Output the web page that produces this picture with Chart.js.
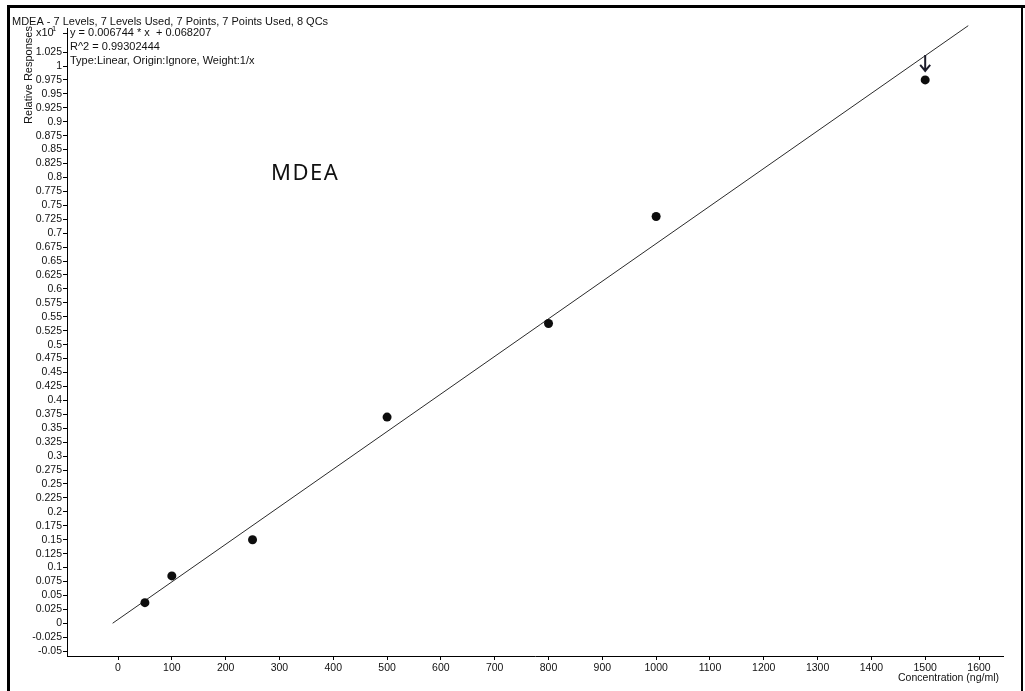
<!DOCTYPE html>
<html>
<head>
<meta charset="utf-8">
<script src="https://cdn.jsdelivr.net/npm/chart.js@4/dist/chart.umd.min.js"></script>
<style>
  html, body { margin: 0; padding: 0; background: #fff; }
  #wrap { position: relative; width: 1025px; height: 691px; }
  canvas { display: block; }
</style>
</head>
<body>
<div id="wrap"><canvas id="cal" width="1025" height="691"></canvas></div>
<script>
// Calibration levels (ng/ml) and relative responses (x10^1)
const concentrations = [50, 100, 250, 500, 800, 1000, 1500];
const responses = [0.037, 0.085, 0.15, 0.37, 0.538, 0.73, 0.975];

// Regression as reported in the header: y = slope * x + intercept (axis scaled x10^1)
const slope = 0.006744;
const intercept = 0.068207;
const fitRange = [-10, 1580];

// Text blocks
const headerText = 'MDEA - 7 Levels, 7 Levels Used, 7 Points, 7 Points Used, 8 QCs';
const equationLines = ['y = 0.006744 * x  + 0.068207', 'R^2 = 0.99302444', 'Type:Linear, Origin:Ignore, Weight:1/x'];
const compoundLabel = 'MDEA';
const yTitle = 'Relative Responses';
const xTitle = 'Concentration (ng/ml)';
const flaggedLevel = 1500;

const pointData = concentrations.map((c, i) => ({ x: c, y: responses[i] }));
const fitData = fitRange.map(x => ({ x: x, y: (slope * x + intercept) / 10 }));

const FONT = "'Liberation Sans', Arial, sans-serif";

function fmtTick(v) {
  let s = (Math.round(v * 1000) / 1000).toFixed(3);
  s = s.replace(/0+$/, '').replace(/\.$/, '');
  if (s === '-0') s = '0';
  return s;
}

const decorations = {
  id: 'decorations',
  afterDraw(chart) {
    const ctx = chart.ctx;
    const xs = chart.scales.x, ys = chart.scales.y;
    const area = chart.chartArea;
    ctx.save();

    // frame
    ctx.fillStyle = '#000';
    ctx.fillRect(7, 5, 1018, 3);
    ctx.fillRect(7, 5, 3, 686);
    ctx.fillRect(1021, 5, 2, 686);

    // header
    ctx.fillStyle = '#111';
    ctx.font = '11px ' + FONT;
    ctx.textBaseline = 'alphabetic';
    ctx.textAlign = 'left';
    ctx.fillText(headerText, 12, 25);

    // equation block
    equationLines.forEach((t, i) => ctx.fillText(t, 70, 36 + i * 14));

    // axis multiplier and its tick
    ctx.fillText('x10', 36, 36);
    ctx.font = '7.5px ' + FONT;
    ctx.fillText('1', 52, 31);
    ctx.fillRect(area.left - 4, 33, 4, 1);

    // y title (rotated)
    ctx.font = '11px ' + FONT;
    ctx.save();
    ctx.translate(29, 75);
    ctx.rotate(-Math.PI / 2);
    ctx.textAlign = 'center';
    ctx.textBaseline = 'middle';
    ctx.fillText(yTitle, 0, 0);
    ctx.restore();

    // x title
    ctx.font = '10.5px ' + FONT;
    ctx.textAlign = 'right';
    ctx.textBaseline = 'alphabetic';
    ctx.fillText(xTitle, 999, 681);

    // compound label
    ctx.font = "22px 'Noto Sans', 'Open Sans', sans-serif";
    ctx.letterSpacing = '1.5px';
    ctx.textAlign = 'left';
    ctx.fillText(compoundLabel, 271, 180);
    ctx.letterSpacing = '0px';

    // flag arrow above the top level
    const idx = concentrations.indexOf(flaggedLevel);
    const px = xs.getPixelForValue(concentrations[idx]);
    const py = ys.getPixelForValue(responses[idx]);
    ctx.strokeStyle = '#1b1b2a';
    ctx.lineWidth = 2;
    ctx.beginPath();
    ctx.moveTo(px, py - 25);
    ctx.lineTo(px, py - 10);
    ctx.moveTo(px - 5, py - 15);
    ctx.lineTo(px, py - 9);
    ctx.lineTo(px + 5, py - 15);
    ctx.stroke();

    ctx.restore();
  }
};

new Chart(document.getElementById('cal'), {
  type: 'scatter',
  data: {
    datasets: [
      {
        data: fitData,
        showLine: true,
        borderColor: '#2a2a2a',
        borderWidth: 1,
        pointRadius: 0,
        clip: false,
        order: 2
      },
      {
        data: pointData,
        pointRadius: 4.5,
        pointBackgroundColor: '#0d0d0d',
        pointBorderWidth: 0,
        order: 1
      }
    ]
  },
  options: {
    responsive: false,
    animation: false,
    events: [],
    layout: { padding: { left: 0, top: 28, right: 22, bottom: 0 } },
    plugins: { legend: { display: false }, tooltip: { enabled: false } },
    scales: {
      x: {
        type: 'linear',
        min: -94.8,
        max: 1644.6,
        afterFit(scale) { scale.height = 35; },
        border: { display: true, color: '#000', width: 1 },
        grid: { drawOnChartArea: false, drawTicks: true, tickLength: 4, color: '#000' },
        ticks: {
          stepSize: 100,
          includeBounds: false,
          maxRotation: 0,
          autoSkip: false,
          padding: 2,
          color: '#111',
          font: { family: FONT, size: 10.5 },
          callback: v => String(v)
        }
      },
      y: {
        type: 'linear',
        min: -0.0587,
        max: 1.0682,
        afterFit(scale) { scale.width = 67; },
        afterBuildTicks(scale) {
          scale.ticks = scale.ticks.filter(t => t.value < 1.03);
        },
        border: { display: true, color: '#000', width: 1 },
        grid: { drawOnChartArea: false, drawTicks: true, tickLength: 4, color: '#000' },
        ticks: {
          stepSize: 0.025,
          includeBounds: false,
          autoSkip: false,
          padding: 1,
          color: '#111',
          font: { family: FONT, size: 10.5 },
          callback: v => fmtTick(v)
        }
      }
    }
  },
  plugins: [decorations]
});
</script>
</body>
</html>
